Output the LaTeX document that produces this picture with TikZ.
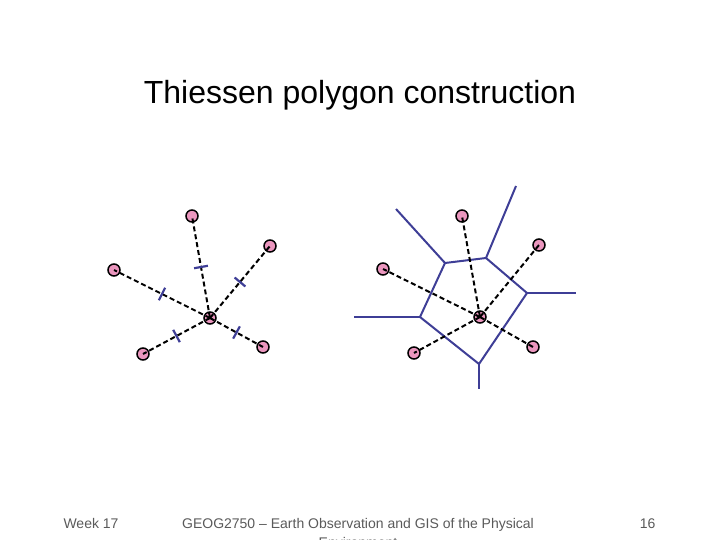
\documentclass[tikz,border=0pt]{standalone}
\usepackage{fontspec}
\setmainfont{Liberation Sans}
\definecolor{sitepink}{RGB}{235,150,190}
\definecolor{edgeblue}{RGB}{62,62,150}
\definecolor{footgray}{RGB}{90,90,90}
\begin{document}
\begin{tikzpicture}[x=1pt,y=-1pt]
\tikzset{site/.style = {shape=circle,draw,fill=sitepink,line width=1.5pt,minimum size=12pt,inner sep=0pt}}
\tikzset{link/.style = {line width=2pt,dash pattern=on 5pt off 3pt}}
\tikzset{tick/.style = {fill=edgeblue,inner sep=0pt,minimum width=2.2pt,minimum height=14pt,sloped}}
\tikzset{edge/.style = {draw=edgeblue,line width=2pt}}
\tikzset{foot/.style = {text=footgray,font=\fontsize{14}{19}\selectfont}}
\useasboundingbox (0,0) rectangle (720,540);
% title
\node[anchor=base,font=\fontsize{32}{38}\selectfont] (title) at (360,104) {Thiessen polygon construction};
% sites, left
\node[site] (c1) at (210,318) {};
\node[site] (t1) at (192,216) {};
\node[site] (ur1) at (270,246) {};
\node[site] (l1) at (114,270) {};
\node[site] (ll1) at (143,354) {};
\node[site] (lr1) at (263,347) {};
% links and bisector ticks
\draw[link] (c1.center) -- (t1.center) node[tick,midway] {};
\draw[link] (c1.center) -- (ur1.center) node[tick,midway] {};
\draw[link] (c1.center) -- (l1.center) node[tick,midway] {};
\draw[link] (c1.center) -- (ll1.center) node[tick,midway] {};
\draw[link] (c1.center) -- (lr1.center) node[tick,midway] {};
% polygon edges, right
\coordinate (pa) at (445,263);
\coordinate (pb) at (486,258);
\coordinate (pc) at (527,293);
\coordinate (pd) at (479,364);
\coordinate (pe) at (420,317);
\coordinate (ra) at (396,209);
\coordinate (rb) at (516,186);
\coordinate (rc) at (576,293);
\coordinate (rd) at (479,389);
\coordinate (re) at (354,317);
\draw[edge,line join=round] (pa) -- (pb) -- (pc) -- (pd) -- (pe) -- cycle;
\draw[edge] (pa) -- (ra);
\draw[edge] (pb) -- (rb);
\draw[edge] (pc) -- (rc);
\draw[edge] (pd) -- (rd);
\draw[edge] (pe) -- (re);
% sites, right
\node[site] (c2) at (480,317) {};
\node[site] (t2) at (462,216) {};
\node[site] (ur2) at (539,245) {};
\node[site] (l2) at (383,269) {};
\node[site] (ll2) at (414,353) {};
\node[site] (lr2) at (533,347) {};
\draw[link] (c2.center) -- (t2.center);
\draw[link] (c2.center) -- (ur2.center);
\draw[link] (c2.center) -- (l2.center);
\draw[link] (c2.center) -- (ll2.center);
\draw[link] (c2.center) -- (lr2.center);
% footer
\node[foot,anchor=base west] (week) at (60,528) {Week 17};
\node[foot,anchor=base,align=center] (course) at (358,547) {GEOG2750 -- Earth Observation and GIS of the Physical\\Environment};
\node[foot,anchor=base east] (page) at (659,528) {16};
\end{tikzpicture}
\end{document}
